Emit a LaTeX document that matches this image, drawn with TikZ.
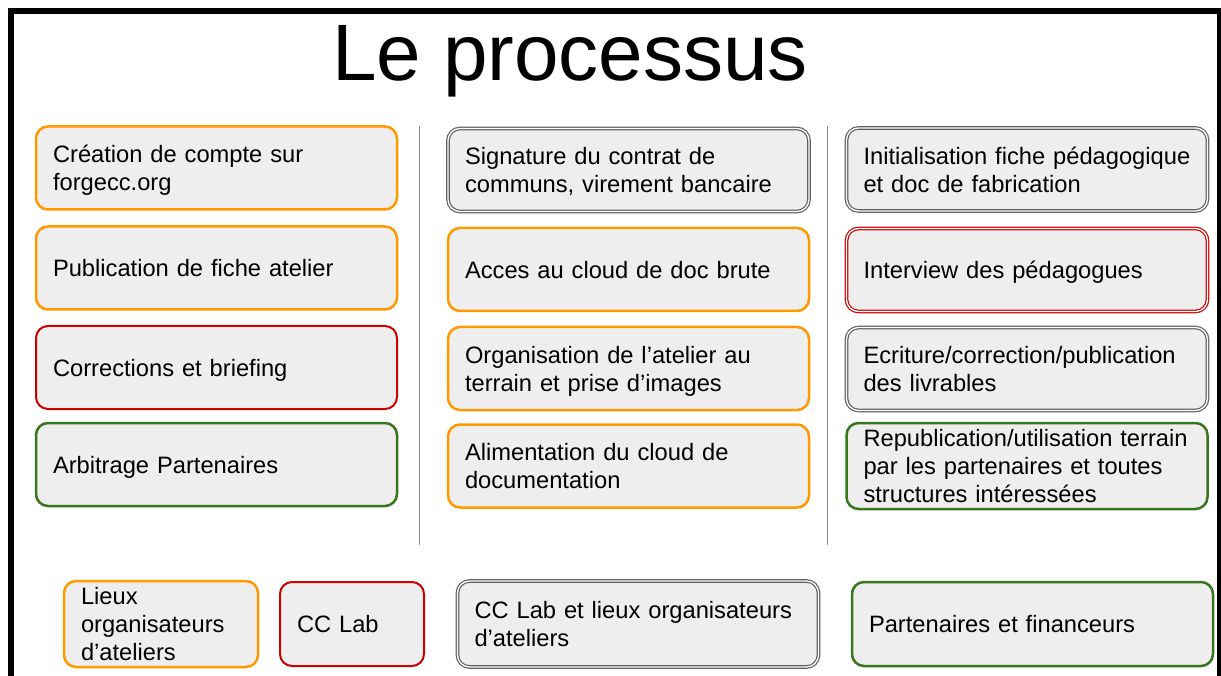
\documentclass[tikz,border=0pt]{standalone}
\usepackage{fontspec}
\setmainfont{Liberation Sans}
\definecolor{boxfill}{HTML}{EEEEEE}
\definecolor{lorange}{HTML}{FF9900}
\definecolor{lred}{HTML}{CC0000}
\definecolor{lgreen}{HTML}{38761D}
\definecolor{lgray}{HTML}{5F5F5F}
\definecolor{sepgray}{HTML}{8C8C8C}
\newcommand{\boxlines}[1]{\raisebox{-3pt}[\height][\depth]{\begin{tabular}{@{}l@{}}#1\end{tabular}}}
\begin{document}
\begin{tikzpicture}[x=1pt,y=-1pt,
  box/.style={rounded corners=12pt, fill=boxfill, minimum height=83pt,
    inner xsep=17pt, inner ysep=1pt, text width=327pt, align=left,
    font=\fontsize{23.7}{28}\selectfont},
  orangebox/.style={box, draw=lorange, line width=2.5pt},
  redbox/.style={box, draw=lred, line width=2pt},
  greenbox/.style={box, draw=lgreen, line width=2.5pt},
  graybox/.style={box, draw=lgray, line width=1.2pt, double=white, double distance=1.3pt},
  reddbox/.style={box, draw=lred, line width=1.2pt, double=white, double distance=1.3pt},
  sepline/.style={draw=sepgray, line width=1.5pt}]

\useasboundingbox (0,0) rectangle (1221,676);
\fill[white] (0,0) rectangle (1221,676);

% frame
\draw[line width=6pt] (11,690) -- (11,11) -- (1220,11) -- (1220,690);

% title
\node[anchor=base, inner sep=0pt, font=\fontsize{80}{96}\selectfont] (title) at (570,81) {Le processus};

% separators
\draw[sepline] (419.5,126) -- (419.5,545);
\draw[sepline] (827.5,126) -- (827.5,545);

% first column
\node[orangebox] (compte) at (216.5,168) {\boxlines{Création de compte sur\\forgecc.org}};
\node[orangebox] (fiche) at (216.5,268) {\boxlines{Publication de fiche atelier}};
\node[redbox] (briefing) at (216.5,367.5) {\boxlines{Corrections et briefing}};
\node[greenbox] (arbitrage) at (216.5,464.5) {\boxlines{Arbitrage Partenaires}};

% second column
\node[graybox] (contrat) at (628.5,170) {\boxlines{Signature du contrat de\\communs, virement bancaire}};
\node[orangebox] (acces) at (628.5,269.5) {\boxlines{Acces au cloud de doc brute}};
\node[orangebox] (terrain) at (628.5,368.5) {\boxlines{Organisation de l’atelier au\\terrain et prise d’images}};
\node[orangebox] (alim) at (628.5,466) {\boxlines{Alimentation du cloud de\\documentation}};

% third column
\node[graybox] (init) at (1027,169.5) {\boxlines{Initialisation fiche pédagogique\\et doc de fabrication}};
\node[reddbox] (interview) at (1027,270) {\boxlines{Interview des pédagogues}};
\node[graybox] (ecriture) at (1027,369) {\boxlines{Ecriture/correction/publication\\des livrables}};
\node[greenbox] (republi) at (1027,466) {\boxlines{Republication/utilisation terrain\\par les partenaires et toutes\\structures intéressées}};

% legend
\node[orangebox, minimum height=84pt, text width=160pt] (lieux) at (161,624) {\boxlines{Lieux\\organisateurs\\d’ateliers}};
\node[redbox, minimum height=84pt, text width=110pt] (cclab) at (352,624) {\boxlines{CC Lab}};
\node[graybox, minimum height=86pt] (cclieux) at (638,624) {\boxlines{CC Lab et lieux organisateurs\\d’ateliers}};
\node[greenbox, minimum height=84pt] (partenaires) at (1032.5,624) {\boxlines{Partenaires et financeurs}};

\end{tikzpicture}
\end{document}
